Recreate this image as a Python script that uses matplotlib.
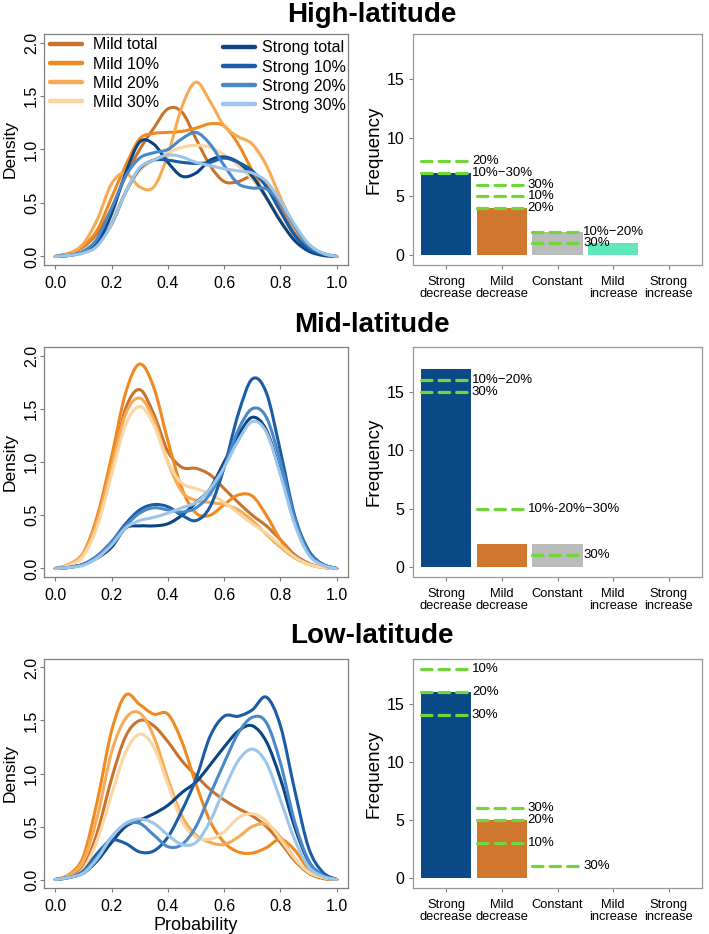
import numpy as np
import matplotlib
matplotlib.use("Agg")
import matplotlib.pyplot as plt
from matplotlib.path import Path
from matplotlib.patches import PathPatch
from matplotlib.lines import Line2D

plt.rcParams['font.family'] = ['Liberation Sans', 'DejaVu Sans']

# ---------------- data ----------------
prob = [0.00, 0.05, 0.10, 0.15, 0.20, 0.25, 0.30, 0.35, 0.40, 0.45, 0.50,
        0.55, 0.60, 0.65, 0.70, 0.75, 0.80, 0.85, 0.90, 0.95, 1.00]

series_names = ["Mild total", "Mild 10%", "Mild 20%", "Mild 30%",
                "Strong total", "Strong 10%", "Strong 20%", "Strong 30%"]
series_colors = ["#c8742f", "#f08a20", "#f7ab55", "#fbd6a2",
                 "#0b4584", "#1a5ca6", "#4a89c9", "#9dc5e7"]

# High-latitude densities
high_mild_total   = [0.00, 0.03, 0.09, 0.22, 0.45, 0.75, 1.00, 1.20, 1.38, 1.35, 1.10, 0.85, 0.70, 0.70, 0.75, 0.68, 0.45, 0.22, 0.08, 0.02, 0.00]
high_mild_10      = [0.00, 0.03, 0.10, 0.25, 0.55, 0.85, 1.10, 1.15, 1.16, 1.17, 1.20, 1.24, 1.22, 1.05, 0.80, 0.55, 0.33, 0.16, 0.06, 0.02, 0.00]
high_mild_20      = [0.00, 0.03, 0.12, 0.35, 0.68, 0.78, 0.65, 0.65, 0.95, 1.40, 1.63, 1.45, 1.22, 1.12, 1.05, 0.85, 0.55, 0.28, 0.10, 0.03, 0.00]
high_mild_30      = [0.00, 0.01, 0.05, 0.15, 0.35, 0.60, 0.80, 0.90, 0.97, 1.02, 1.04, 1.02, 0.95, 0.85, 0.72, 0.55, 0.35, 0.17, 0.06, 0.01, 0.00]
high_strong_total = [0.00, 0.01, 0.04, 0.13, 0.40, 0.78, 1.07, 1.05, 0.88, 0.75, 0.78, 0.90, 0.93, 0.88, 0.75, 0.55, 0.33, 0.15, 0.05, 0.01, 0.00]
high_strong_10    = [0.00, 0.01, 0.04, 0.12, 0.30, 0.60, 0.82, 0.90, 0.90, 0.88, 0.87, 0.88, 0.92, 0.88, 0.80, 0.65, 0.42, 0.20, 0.07, 0.02, 0.00]
high_strong_20    = [0.00, 0.01, 0.05, 0.17, 0.45, 0.75, 0.92, 0.97, 1.00, 1.10, 1.16, 1.05, 0.85, 0.68, 0.64, 0.63, 0.50, 0.28, 0.10, 0.03, 0.00]
high_strong_30    = [0.00, 0.01, 0.03, 0.10, 0.30, 0.60, 0.83, 0.90, 0.95, 0.93, 0.88, 0.85, 0.82, 0.80, 0.78, 0.70, 0.52, 0.30, 0.12, 0.03, 0.00]

# Mid-latitude densities
mid_mild_total    = [0.00, 0.03, 0.13, 0.45, 0.95, 1.50, 1.68, 1.45, 1.10, 0.95, 0.94, 0.88, 0.75, 0.62, 0.50, 0.40, 0.27, 0.13, 0.05, 0.01, 0.00]
mid_mild_10       = [0.00, 0.04, 0.15, 0.50, 1.05, 1.65, 1.92, 1.70, 1.20, 0.75, 0.52, 0.50, 0.60, 0.69, 0.68, 0.50, 0.27, 0.11, 0.04, 0.01, 0.00]
mid_mild_20       = [0.00, 0.04, 0.14, 0.45, 0.95, 1.45, 1.60, 1.40, 1.00, 0.72, 0.64, 0.62, 0.60, 0.55, 0.45, 0.32, 0.20, 0.10, 0.04, 0.01, 0.00]
mid_mild_30       = [0.00, 0.03, 0.12, 0.40, 0.88, 1.35, 1.52, 1.35, 1.00, 0.80, 0.75, 0.70, 0.62, 0.52, 0.42, 0.33, 0.22, 0.11, 0.04, 0.01, 0.00]
mid_strong_total  = [0.00, 0.01, 0.04, 0.10, 0.20, 0.38, 0.40, 0.40, 0.42, 0.50, 0.62, 0.75, 1.00, 1.25, 1.42, 1.30, 0.90, 0.45, 0.15, 0.04, 0.00]
mid_strong_10     = [0.00, 0.01, 0.04, 0.12, 0.25, 0.42, 0.55, 0.60, 0.58, 0.50, 0.45, 0.58, 0.95, 1.45, 1.78, 1.65, 1.10, 0.50, 0.17, 0.04, 0.00]
mid_strong_20     = [0.00, 0.01, 0.04, 0.12, 0.25, 0.40, 0.52, 0.57, 0.55, 0.53, 0.57, 0.70, 0.95, 1.30, 1.50, 1.42, 1.00, 0.48, 0.15, 0.04, 0.00]
mid_strong_30     = [0.00, 0.01, 0.03, 0.10, 0.22, 0.38, 0.45, 0.48, 0.52, 0.57, 0.62, 0.75, 0.95, 1.20, 1.38, 1.28, 0.88, 0.42, 0.13, 0.03, 0.00]

# Low-latitude densities
low_mild_total    = [0.00, 0.03, 0.12, 0.45, 0.95, 1.35, 1.50, 1.45, 1.30, 1.12, 0.98, 0.85, 0.75, 0.67, 0.60, 0.50, 0.35, 0.18, 0.06, 0.01, 0.00]
low_mild_10       = [0.00, 0.05, 0.22, 0.75, 1.40, 1.74, 1.65, 1.56, 1.56, 1.30, 0.90, 0.55, 0.35, 0.26, 0.25, 0.30, 0.38, 0.28, 0.10, 0.02, 0.00]
low_mild_20       = [0.00, 0.04, 0.18, 0.60, 1.20, 1.52, 1.57, 1.35, 0.95, 0.60, 0.42, 0.35, 0.33, 0.40, 0.50, 0.52, 0.40, 0.20, 0.07, 0.02, 0.00]
low_mild_30       = [0.00, 0.02, 0.10, 0.38, 0.80, 1.20, 1.37, 1.25, 0.90, 0.55, 0.40, 0.38, 0.45, 0.58, 0.62, 0.55, 0.38, 0.20, 0.07, 0.02, 0.00]
low_strong_total  = [0.00, 0.02, 0.06, 0.18, 0.35, 0.50, 0.56, 0.62, 0.70, 0.82, 0.92, 1.08, 1.25, 1.40, 1.45, 1.30, 0.95, 0.50, 0.17, 0.04, 0.00]
low_strong_10     = [0.00, 0.02, 0.08, 0.25, 0.37, 0.34, 0.26, 0.27, 0.40, 0.65, 0.95, 1.35, 1.54, 1.54, 1.60, 1.72, 1.45, 0.85, 0.30, 0.07, 0.00]
low_strong_20     = [0.00, 0.02, 0.07, 0.22, 0.40, 0.52, 0.53, 0.42, 0.31, 0.33, 0.50, 0.80, 1.10, 1.38, 1.53, 1.48, 1.10, 0.55, 0.18, 0.04, 0.00]
low_strong_30     = [0.00, 0.02, 0.06, 0.20, 0.40, 0.53, 0.57, 0.53, 0.42, 0.33, 0.35, 0.55, 0.85, 1.12, 1.23, 1.10, 0.75, 0.38, 0.12, 0.03, 0.00]

# Bar charts
bar_categories = ["Strong\ndecrease", "Mild\ndecrease", "Constant", "Mild\nincrease", "Strong\nincrease"]
bar_colors = ["#0b4a86", "#cf772e", "#bbbbbb", "#5fe8b8", "#d94040"]

high_counts = [7, 4, 2, 1, 0]
mid_counts = [17, 2, 2, 0, 0]
low_counts = [16, 5, 0, 0, 0]

high_ref_cat = [0, 0, 1, 1, 1, 2, 2]
high_ref_val = [8, 7, 6, 5, 4, 2, 1]
high_ref_lab = ["20%", "10%\u221230%", "30%", "10%", "20%", "10%\u221220%", "30%"]

mid_ref_cat = [0, 0, 1, 2]
mid_ref_val = [16, 15, 5, 1]
mid_ref_lab = ["10%\u221220%", "30%", "10%-20%\u221230%", "30%"]

low_ref_cat = [0, 0, 0, 1, 1, 1, 2]
low_ref_val = [18, 16, 14, 6, 5, 3, 1]
low_ref_lab = ["10%", "20%", "30%", "30%", "20%", "10%", "30%"]

titles = ["High-latitude", "Mid-latitude", "Low-latitude"]

# ---------------- figure ----------------
W, H = 709, 934
fig = plt.figure(figsize=(W / 100, H / 100), dpi=100)

def fax(left, top, right, bottom):
    return fig.add_axes([left / W, 1 - bottom / H, (right - left) / W, (bottom - top) / H])

rows = [(34, 265), (347, 577), (659, 888)]
title_base = [22, 332, 643]

dens_sets = [
    [high_mild_total, high_mild_10, high_mild_20, high_mild_30,
     high_strong_total, high_strong_10, high_strong_20, high_strong_30],
    [mid_mild_total, mid_mild_10, mid_mild_20, mid_mild_30,
     mid_strong_total, mid_strong_10, mid_strong_20, mid_strong_30],
    [low_mild_total, low_mild_10, low_mild_20, low_mild_30,
     low_strong_total, low_strong_10, low_strong_20, low_strong_30],
]
count_sets = [high_counts, mid_counts, low_counts]
ref_sets = [(high_ref_cat, high_ref_val, high_ref_lab),
            (mid_ref_cat, mid_ref_val, mid_ref_lab),
            (low_ref_cat, low_ref_val, low_ref_lab)]

frame_col = "#7f7f7f"


def smooth_path(xs, ys):
    xs = np.asarray(xs, float)
    ys = np.asarray(ys, float)
    n = len(xs)
    verts = [(xs[0], ys[0])]
    codes = [Path.MOVETO]
    for i in range(n - 1):
        i0 = max(i - 1, 0)
        i3 = min(i + 2, n - 1)
        c1 = (xs[i] + (xs[i + 1] - xs[i0]) / 6, ys[i] + (ys[i + 1] - ys[i0]) / 6)
        c2 = (xs[i + 1] - (xs[i3] - xs[i]) / 6, ys[i + 1] - (ys[i3] - ys[i]) / 6)
        verts += [c1, c2, (xs[i + 1], ys[i + 1])]
        codes += [Path.CURVE4] * 3
    return Path(verts, codes)


for r, (top, bottom) in enumerate(rows):
    # density panel
    ax = fax(44, top, 348, bottom)
    for vals, col in zip(dens_sets[r], series_colors):
        p = PathPatch(smooth_path(prob, vals), facecolor="none", edgecolor=col,
                      lw=2.2, capstyle="round", joinstyle="round")
        ax.add_patch(p)
    ax.set_xlim(-0.04, 1.04)
    ax.set_ylim(-0.08, 2.08)
    ax.set_xticks([0.0, 0.2, 0.4, 0.6, 0.8, 1.0])
    ax.set_xticklabels(["0.0", "0.2", "0.4", "0.6", "0.8", "1.0"])
    ax.set_yticks([0.0, 0.5, 1.0, 1.5, 2.0])
    ax.set_yticklabels(["0.0", "0.5", "1.0", "1.5", "2.0"], rotation=90, va="center")
    ax.tick_params(direction="out", length=3, width=0.8, color=frame_col,
                   labelsize=11.5)
    ax.tick_params(axis="x", pad=5)
    ax.tick_params(axis="y", pad=0.5)
    for s in ax.spines.values():
        s.set_color(frame_col)
        s.set_linewidth(0.9)
    ax.set_ylabel("Density", fontsize=12.5)
    ax.yaxis.set_label_coords(-0.086, 0.5)
    if r == 2:
        ax.set_xlabel("Probability", fontsize=13, labelpad=2)

    if r == 0:
        h1 = [Line2D([], [], color=c, lw=3.2, solid_capstyle="round") for c in series_colors[:4]]
        h2 = [Line2D([], [], color=c, lw=3.2, solid_capstyle="round") for c in series_colors[4:]]
        leg1 = ax.legend(h1, series_names[:4], loc="upper left",
                         bbox_to_anchor=(0.02, 0.985), frameon=False, fontsize=11.5,
                         handlelength=2.0, handletextpad=0.69, labelspacing=0.26,
                         borderpad=0.0, borderaxespad=0.0)
        ax.add_artist(leg1)
        ax.legend(h2, series_names[4:], loc="upper left",
                  bbox_to_anchor=(0.589, 0.972), frameon=False, fontsize=11.5,
                  handlelength=2.0, handletextpad=0.44, labelspacing=0.26,
                  borderpad=0.0, borderaxespad=0.0)

    # bar panel
    bx = fax(413, top, 702, bottom)
    pos = np.arange(len(bar_categories))
    bx.bar(pos, count_sets[r], width=0.9, color=bar_colors, edgecolor="none", zorder=2)
    cats, vals, labs = ref_sets[r]
    for c, v, lab in zip(cats, vals, labs):
        bx.plot([c - 0.45, c + 0.45], [v, v], color="#72d63a", lw=2.3,
                dashes=(3.3, 2.2), dash_capstyle="round", zorder=3)
        bx.text(c + 0.46, v, lab, ha="left", va="center", fontsize=9.5, zorder=4)
    bx.set_xlim(-0.6, 4.6)
    bx.set_ylim(-0.85, 18.85)
    bx.set_xticks(pos)
    bx.set_xticklabels(bar_categories, linespacing=0.95)
    bx.set_yticks([0, 5, 10, 15])
    bx.tick_params(direction="out", length=3, width=0.8, color=frame_col, pad=3)
    bx.tick_params(axis="x", labelsize=9.3, pad=5)
    bx.tick_params(axis="y", labelsize=11.5)
    for s in bx.spines.values():
        s.set_color("#999999")
        s.set_linewidth(0.9)
    bx.set_ylabel("Frequency", fontsize=13.5, labelpad=3)

    fig.text(372 / W, 1 - title_base[r] / H, titles[r], ha="center", va="baseline",
             fontsize=20, fontweight="bold")

fig.savefig("out.png", dpi=100)
